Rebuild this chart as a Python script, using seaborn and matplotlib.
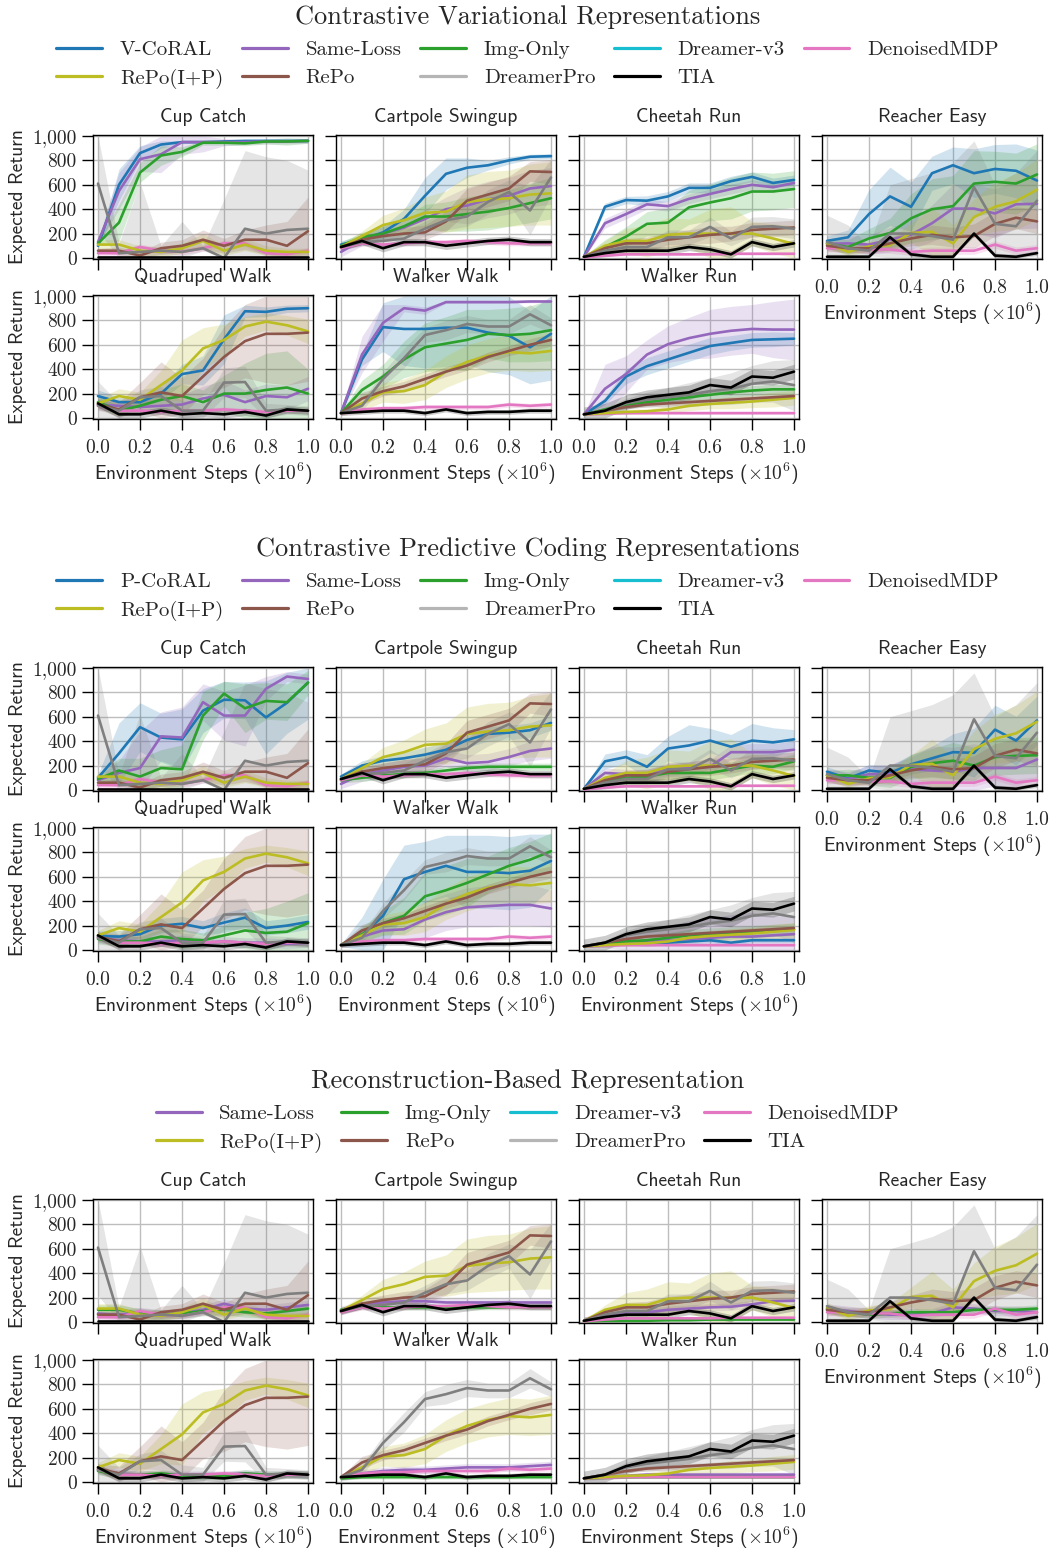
import numpy as np
import pandas as pd
import matplotlib
matplotlib.use("Agg")
import matplotlib.pyplot as plt
import seaborn as sns
from matplotlib.lines import Line2D

# ---------------------------------------------------------------- data
STEPS = [0.0, 0.1, 0.2, 0.3, 0.4, 0.5, 0.6, 0.7, 0.8, 0.9, 1.0]
TASKS = ["Cup Catch", "Cartpole Swingup", "Cheetah Run", "Reacher Easy",
         "Quadruped Walk", "Walker Walk", "Walker Run"]
X_TICKS = [0.0, 0.2, 0.4, 0.6, 0.8, 1.0]
X_TICK_LABELS = ["0.0", "0.2", "0.4", "0.6", "0.8", "1.0"]
Y_TICKS = [0, 200, 400, 600, 800, 1000]
Y_TICK_LABELS = ["0", "200", "400", "600", "800", "1,000"]
SECTION_TITLES = ["Contrastive Variational Representations",
                  "Contrastive Predictive Coding Representations",
                  "Reconstruction-Based Representation"]
CORAL_NAMES = ["V-CoRAL", "P-CoRAL", None]

# --- section specific methods
V_CORAL = {
    "Cup Catch": [100, 600, 860, 930, 950, 950, 955, 960, 960, 960, 960],
    "Cartpole Swingup": [110, 150, 210, 320, 510, 690, 740, 760, 800, 830, 835],
    "Cheetah Run": [10, 420, 475, 470, 505, 575, 575, 630, 665, 615, 640],
    "Reacher Easy": [140, 170, 360, 505, 420, 695, 760, 695, 730, 715, 635],
    "Quadruped Walk": [180, 130, 130, 200, 360, 390, 645, 875, 870, 895, 900],
    "Walker Walk": [40, 480, 745, 730, 730, 740, 740, 700, 675, 580, 690],
    "Walker Run": [30, 140, 340, 425, 480, 535, 590, 615, 640, 645, 650],
}
V_CORAL_SD = {
    "Cup Catch": [20, 130, 60, 30, 10, 10, 10, 10, 10, 10, 10],
    "Cartpole Swingup": [30, 40, 50, 80, 150, 130, 80, 40, 30, 20, 20],
    "Cheetah Run": [5, 30, 30, 40, 40, 40, 40, 40, 40, 40, 40],
    "Reacher Easy": [40, 60, 200, 240, 200, 140, 150, 200, 200, 220, 250],
    "Quadruped Walk": [50, 40, 40, 60, 80, 120, 200, 50, 40, 30, 30],
    "Walker Walk": [10, 50, 200, 300, 320, 320, 300, 320, 320, 300, 380],
    "Walker Run": [5, 30, 60, 70, 70, 70, 70, 60, 60, 60, 50],
}
V_SAME = {
    "Cup Catch": [130, 550, 810, 850, 950, 950, 950, 950, 955, 955, 960],
    "Cartpole Swingup": [50, 150, 200, 250, 320, 400, 430, 480, 510, 570, 590],
    "Cheetah Run": [10, 285, 360, 440, 425, 485, 525, 565, 600, 580, 615],
    "Reacher Easy": [115, 120, 110, 150, 190, 285, 405, 405, 365, 440, 445],
    "Quadruped Walk": [110, 100, 90, 100, 110, 160, 190, 130, 180, 170, 240],
    "Walker Walk": [40, 520, 780, 900, 880, 950, 950, 950, 950, 955, 955],
    "Walker Run": [30, 240, 360, 520, 605, 655, 690, 715, 730, 725, 725],
}
V_SAME_SD = {
    "Cup Catch": [20, 150, 100, 150, 100, 80, 30, 20, 20, 20, 20],
    "Cartpole Swingup": [40, 50, 60, 60, 80, 100, 150, 150, 150, 150, 150],
    "Cheetah Run": [5, 40, 40, 40, 40, 40, 40, 40, 40, 40, 40],
    "Reacher Easy": [40, 60, 80, 100, 120, 150, 200, 200, 200, 200, 200],
    "Quadruped Walk": [50, 50, 50, 60, 80, 100, 120, 100, 100, 100, 100],
    "Walker Walk": [10, 150, 150, 30, 30, 10, 10, 10, 10, 10, 10],
    "Walker Run": [5, 200, 150, 120, 150, 170, 200, 200, 200, 230, 250],
}
V_IMG = {
    "Cup Catch": [120, 290, 700, 840, 870, 945, 945, 940, 955, 955, 960],
    "Cartpole Swingup": [100, 170, 200, 260, 340, 340, 360, 380, 410, 450, 490],
    "Cheetah Run": [10, 90, 175, 280, 290, 415, 455, 490, 545, 545, 565],
    "Reacher Easy": [120, 90, 160, 205, 325, 400, 425, 610, 625, 610, 685],
    "Quadruped Walk": [130, 60, 100, 150, 180, 130, 200, 200, 230, 250, 200],
    "Walker Walk": [40, 230, 340, 480, 580, 610, 640, 690, 680, 690, 720],
    "Walker Run": [30, 70, 110, 130, 150, 170, 190, 210, 225, 235, 235],
}
V_IMG_SD = {
    "Cup Catch": [20, 150, 80, 80, 40, 20, 20, 20, 20, 30, 20],
    "Cartpole Swingup": [30, 40, 60, 80, 100, 120, 140, 150, 150, 160, 170],
    "Cheetah Run": [5, 60, 80, 100, 120, 140, 150, 170, 160, 150, 150],
    "Reacher Easy": [40, 60, 80, 120, 200, 250, 250, 270, 250, 250, 250],
    "Quadruped Walk": [50, 40, 60, 80, 100, 100, 150, 250, 300, 300, 200],
    "Walker Walk": [10, 80, 100, 150, 200, 220, 250, 200, 220, 230, 250],
    "Walker Run": [5, 20, 30, 30, 30, 40, 40, 40, 40, 40, 40],
}

P_CORAL = {
    "Cup Catch": [100, 300, 515, 430, 415, 650, 740, 735, 595, 715, 880],
    "Cartpole Swingup": [110, 200, 240, 260, 290, 330, 410, 460, 470, 490, 550],
    "Cheetah Run": [10, 235, 270, 190, 340, 365, 405, 355, 405, 390, 415],
    "Reacher Easy": [150, 95, 160, 140, 210, 260, 310, 305, 495, 405, 570],
    "Quadruped Walk": [115, 110, 130, 200, 215, 180, 225, 265, 180, 200, 230],
    "Walker Walk": [40, 120, 280, 580, 640, 690, 640, 640, 630, 650, 730],
    "Walker Run": [30, 40, 50, 50, 60, 70, 80, 60, 80, 80, 80],
}
P_CORAL_SD = {
    "Cup Catch": [30, 250, 200, 200, 250, 180, 150, 150, 300, 250, 300],
    "Cartpole Swingup": [20, 40, 40, 50, 60, 60, 60, 60, 60, 60, 60],
    "Cheetah Run": [5, 60, 60, 100, 100, 170, 100, 100, 140, 120, 80],
    "Reacher Easy": [40, 40, 50, 60, 80, 100, 150, 200, 200, 200, 200],
    "Quadruped Walk": [40, 50, 50, 60, 60, 60, 80, 80, 60, 60, 60],
    "Walker Walk": [10, 150, 300, 280, 250, 250, 300, 300, 300, 300, 220],
    "Walker Run": [5, 10, 10, 20, 20, 20, 20, 20, 20, 20, 20],
}
P_SAME = {
    "Cup Catch": [80, 140, 180, 440, 430, 720, 610, 610, 830, 930, 910],
    "Cartpole Swingup": [50, 130, 160, 190, 200, 260, 220, 230, 270, 320, 340],
    "Cheetah Run": [10, 140, 130, 130, 170, 180, 190, 310, 310, 310, 330],
    "Reacher Easy": [120, 90, 130, 130, 170, 160, 150, 180, 180, 180, 250],
    "Quadruped Walk": [100, 80, 70, 70, 80, 60, 70, 60, 60, 50, 60],
    "Walker Walk": [40, 110, 160, 170, 250, 310, 350, 360, 370, 370, 340],
    "Walker Run": [30, 40, 60, 70, 80, 90, 100, 110, 110, 120, 130],
}
P_SAME_SD = {
    "Cup Catch": [30, 100, 300, 200, 250, 150, 200, 250, 100, 40, 40],
    "Cartpole Swingup": [40, 60, 60, 60, 60, 70, 70, 70, 70, 80, 80],
    "Cheetah Run": [5, 40, 40, 40, 50, 50, 60, 60, 70, 70, 70],
    "Reacher Easy": [50, 60, 70, 80, 100, 200, 200, 200, 150, 150, 150],
    "Quadruped Walk": [40, 40, 40, 40, 40, 40, 40, 40, 40, 40, 40],
    "Walker Walk": [10, 50, 70, 100, 150, 150, 160, 170, 170, 170, 150],
    "Walker Run": [5, 20, 60, 80, 120, 150, 160, 180, 200, 160, 150],
}
P_IMG = {
    "Cup Catch": [90, 160, 110, 180, 170, 610, 790, 670, 730, 720, 880],
    "Cartpole Swingup": [80, 100, 120, 130, 140, 160, 180, 190, 190, 190, 190],
    "Cheetah Run": [10, 70, 100, 110, 140, 140, 140, 170, 200, 190, 235],
    "Reacher Easy": [120, 120, 100, 100, 190, 220, 240, 200, 270, 280, 285],
    "Quadruped Walk": [90, 70, 70, 110, 90, 80, 120, 160, 140, 150, 220],
    "Walker Walk": [40, 130, 220, 280, 440, 490, 550, 620, 690, 740, 810],
    "Walker Run": [30, 50, 70, 80, 100, 120, 130, 140, 150, 160, 170],
}
P_IMG_SD = {
    "Cup Catch": [30, 100, 150, 150, 200, 200, 100, 200, 150, 150, 100],
    "Cartpole Swingup": [20, 30, 30, 30, 30, 30, 30, 30, 30, 30, 30],
    "Cheetah Run": [5, 30, 40, 40, 50, 60, 60, 60, 60, 60, 60],
    "Reacher Easy": [40, 50, 60, 80, 100, 120, 150, 150, 150, 150, 150],
    "Quadruped Walk": [40, 40, 40, 60, 80, 60, 80, 150, 200, 250, 250],
    "Walker Walk": [10, 60, 100, 150, 200, 200, 200, 150, 150, 150, 150],
    "Walker Run": [5, 20, 30, 40, 40, 50, 50, 50, 50, 50, 50],
}

R_SAME = {
    "Cup Catch": [70, 60, 80, 60, 70, 100, 150, 110, 100, 120, 140],
    "Cartpole Swingup": [100, 140, 160, 170, 170, 160, 160, 160, 160, 160, 160],
    "Cheetah Run": [10, 60, 80, 80, 100, 110, 120, 125, 145, 170, 175],
    "Reacher Easy": [110, 90, 70, 60, 60, 70, 120, 110, 90, 90, 80],
    "Quadruped Walk": [100, 70, 60, 60, 60, 60, 60, 70, 60, 60, 60],
    "Walker Walk": [40, 70, 90, 100, 100, 110, 120, 120, 120, 130, 140],
    "Walker Run": [30, 40, 50, 60, 60, 60, 60, 60, 60, 60, 60],
}
R_SAME_SD = {"Cup Catch": 40, "Cartpole Swingup": 30, "Cheetah Run": 30,
             "Reacher Easy": 40, "Quadruped Walk": 30, "Walker Walk": 30,
             "Walker Run": 20}
R_IMG = {
    "Cup Catch": [100, 100, 70, 60, 70, 90, 100, 80, 70, 90, 110],
    "Cartpole Swingup": [100, 130, 120, 120, 120, 120, 120, 120, 120, 120, 120],
    "Cheetah Run": [5, 10, 10, 10, 15, 15, 20, 20, 20, 20, 20],
    "Reacher Easy": [100, 80, 60, 70, 80, 80, 80, 100, 100, 100, 110],
    "Quadruped Walk": [90, 60, 60, 70, 50, 50, 50, 70, 60, 60, 60],
    "Walker Walk": [30, 40, 40, 40, 40, 40, 40, 40, 40, 40, 40],
    "Walker Run": [30, 35, 40, 40, 40, 40, 40, 40, 40, 40, 40],
}
R_IMG_SD = {"Cup Catch": 40, "Cartpole Swingup": 20, "Cheetah Run": 10,
            "Reacher Easy": 30, "Quadruped Walk": 30, "Walker Walk": 15,
            "Walker Run": 10}

# --- baselines shared by all sections
REPO_IP = {
    "Cup Catch": [110, 110, 60, 50, 80, 140, 60, 110, 60, 50, 50],
    "Cartpole Swingup": [90, 180, 270, 310, 370, 380, 460, 480, 490, 520, 530],
    "Cheetah Run": [10, 100, 140, 140, 190, 200, 200, 200, 200, 160, 115],
    "Reacher Easy": [120, 50, 95, 105, 205, 215, 120, 335, 420, 465, 560],
    "Quadruped Walk": [120, 180, 150, 270, 390, 570, 640, 750, 790, 760, 710],
    "Walker Walk": [40, 120, 210, 220, 270, 380, 460, 510, 540, 530, 550],
    "Walker Run": [30, 40, 50, 55, 70, 100, 115, 125, 135, 150, 165],
}
REPO_IP_SD = {
    "Cup Catch": [40, 40, 40, 40, 40, 60, 40, 50, 40, 30, 30],
    "Cartpole Swingup": [20, 40, 80, 100, 130, 170, 220, 230, 230, 250, 260],
    "Cheetah Run": [5, 40, 100, 130, 140, 120, 200, 220, 100, 120, 150],
    "Reacher Easy": [40, 30, 40, 50, 80, 200, 150, 150, 200, 230, 250],
    "Quadruped Walk": [40, 60, 60, 120, 250, 170, 130, 80, 70, 80, 100],
    "Walker Walk": [10, 60, 80, 100, 120, 130, 140, 140, 150, 150, 160],
    "Walker Run": [5, 10, 20, 20, 30, 40, 40, 50, 50, 60, 60],
}
REPO = {
    "Cup Catch": [60, 60, 20, 80, 100, 150, 100, 150, 150, 100, 220],
    "Cartpole Swingup": [90, 150, 180, 200, 210, 300, 470, 520, 570, 710, 705],
    "Cheetah Run": [10, 80, 120, 120, 150, 170, 190, 200, 230, 240, 250],
    "Reacher Easy": [100, 80, 80, 120, 160, 190, 170, 180, 280, 330, 300],
    "Quadruped Walk": [110, 70, 170, 210, 180, 340, 500, 630, 690, 690, 700],
    "Walker Walk": [40, 160, 220, 260, 320, 380, 430, 500, 550, 600, 640],
    "Walker Run": [30, 60, 90, 110, 120, 130, 140, 150, 160, 170, 180],
}
REPO_SD = {
    "Cup Catch": [20, 30, 30, 50, 50, 80, 60, 80, 120, 200, 280],
    "Cartpole Swingup": [20, 40, 40, 50, 60, 80, 100, 100, 100, 80, 100],
    "Cheetah Run": [5, 30, 40, 50, 60, 60, 70, 60, 60, 60, 60],
    "Reacher Easy": [40, 40, 40, 50, 60, 80, 80, 100, 100, 90, 100],
    "Quadruped Walk": [40, 60, 120, 250, 150, 150, 250, 300, 400, 420, 400],
    "Walker Walk": [10, 50, 40, 40, 40, 40, 40, 40, 40, 50, 50],
    "Walker Run": [5, 10, 15, 20, 20, 20, 20, 20, 20, 20, 20],
}
DREAMERPRO = {
    "Cup Catch": [610, 40, 50, 60, 50, 80, 0, 240, 200, 230, 240],
    "Cartpole Swingup": [90, 130, 140, 160, 240, 310, 340, 460, 540, 390, 660],
    "Cheetah Run": [10, 60, 90, 90, 170, 170, 255, 160, 255, 260, 240],
    "Reacher Easy": [130, 80, 60, 200, 200, 180, 150, 580, 280, 260, 470],
    "Quadruped Walk": [100, 60, 170, 180, 60, 60, 290, 295, 60, 70, 60],
    "Walker Walk": [40, 100, 320, 490, 680, 720, 770, 750, 750, 850, 760],
    "Walker Run": [30, 60, 120, 150, 170, 190, 220, 240, 280, 300, 270],
}
DREAMERPRO_SD = {
    "Cup Catch": [390, 80, 570, 40, 250, 20, 480, 640, 630, 570, 480],
    "Cartpole Swingup": [20, 30, 40, 60, 60, 80, 80, 100, 100, 200, 150],
    "Cheetah Run": [5, 30, 40, 40, 60, 60, 80, 60, 80, 80, 80],
    "Reacher Easy": [220, 190, 40, 400, 450, 520, 630, 380, 320, 440, 410],
    "Quadruped Walk": [200, 60, 60, 80, 80, 60, 120, 130, 60, 40, 40],
    "Walker Walk": [10, 40, 60, 80, 60, 80, 70, 60, 60, 80, 60],
    "Walker Run": [5, 20, 40, 60, 80, 100, 110, 130, 150, 170, 210],
}
TIA = {
    "Cup Catch": [5, 5, 5, 5, 5, 5, 5, 5, 5, 5, 5],
    "Cartpole Swingup": [90, 140, 80, 130, 130, 100, 120, 140, 150, 130, 130],
    "Cheetah Run": [10, 40, 60, 60, 60, 90, 70, 30, 130, 90, 120],
    "Reacher Easy": [10, 10, 10, 170, 30, 10, 10, 200, 20, 10, 40],
    "Quadruped Walk": [120, 30, 30, 60, 30, 40, 30, 50, 20, 70, 60],
    "Walker Walk": [40, 50, 60, 60, 40, 70, 40, 50, 50, 60, 60],
    "Walker Run": [30, 60, 130, 170, 190, 210, 270, 250, 340, 330, 380],
}
TIA_SD = {"Cup Catch": 5, "Cartpole Swingup": 30, "Cheetah Run": 30,
          "Reacher Easy": 20, "Quadruped Walk": 30, "Walker Walk": 20,
          "Walker Run": 60}
DENOISED = {
    "Cup Catch": [40, 40, 90, 60, 50, 80, 120, 120, 40, 30, 60],
    "Cartpole Swingup": [80, 120, 110, 120, 130, 130, 140, 130, 120, 120, 120],
    "Cheetah Run": [5, 20, 30, 30, 30, 30, 30, 35, 35, 35, 35],
    "Reacher Easy": [80, 80, 70, 70, 50, 60, 60, 60, 110, 60, 80],
    "Quadruped Walk": [100, 60, 60, 50, 60, 60, 70, 60, 50, 60, 60],
    "Walker Walk": [40, 70, 80, 80, 90, 90, 90, 90, 110, 100, 110],
    "Walker Run": [30, 35, 40, 40, 40, 40, 40, 40, 40, 40, 40],
}
DENOISED_SD = {"Cup Catch": 25, "Cartpole Swingup": 20, "Cheetah Run": 10,
               "Reacher Easy": 30, "Quadruped Walk": 20, "Walker Walk": 20,
               "Walker Run": 10}

# ---------------------------------------------------------------- style
COLORS = {"CoRAL": "#1f77b4", "Same-Loss": "#9467bd", "Img-Only": "#2ca02c",
          "Dreamer-v3": "#17becf", "DenoisedMDP": "#e377c2",
          "RePo(I+P)": "#bcbd22", "RePo": "#8c564b", "DreamerPro": "#7f7f7f",
          "TIA": "#000000"}
LEGEND_COLORS = dict(COLORS, DreamerPro="#b5b5b5")

sns.set_style("ticks")
plt.rcParams["mathtext.fontset"] = "cm"
plt.rcParams["axes.unicode_minus"] = False
plt.rcParams["axes.formatter.use_mathtext"] = True
SERIF = "cmr10"
SANS = "cmss10"

W, H = 1055, 1551
fig = plt.figure(figsize=(W / 100, H / 100), dpi=100)

COL_X0 = [98, 341, 584, 827]      # pixel position of x = 0
DATA_W = 210                       # pixels for x in [0, 1]
DATA_H = 122                       # pixels for y in [0, 1000]
SEC_DY = 532


def axes_rect(sec, row, col):
    y0 = 258 + 160 * row + SEC_DY * sec
    left = COL_X0[col] - 0.025 * DATA_W
    width = 1.05 * DATA_W
    bottom = y0 + 0.01 * DATA_H
    height = 1.02 * DATA_H
    return [left / W, 1 - bottom / H, width / W, height / H]


def draw_panel(ax, task, series):
    frames = []
    for key, md, sd in series:
        m = np.asarray(md[task], float)
        s = sd[task]
        s = np.asarray(s, float) if np.ndim(s) else np.full(len(m), float(s))
        ax.fill_between(STEPS, np.clip(m - s, 0, 1000), np.clip(m + s, 0, 1000),
                        color=COLORS[key], alpha=0.2, lw=0, zorder=1)
        frames.append(pd.DataFrame({"step": STEPS, "ret": m, "method": key}))
    df = pd.concat(frames, ignore_index=True)
    keys = [k for k, _, _ in series]
    sns.lineplot(data=df, x="step", y="ret", hue="method", hue_order=keys,
                 palette=[COLORS[k] for k in keys], linewidth=1.9,
                 legend=False, errorbar=None, sort=False, ax=ax, zorder=3)


SECTIONS = [
    (V_CORAL, V_CORAL_SD, V_SAME, V_SAME_SD, V_IMG, V_IMG_SD),
    (P_CORAL, P_CORAL_SD, P_SAME, P_SAME_SD, P_IMG, P_IMG_SD),
    (None, None, R_SAME, R_SAME_SD, R_IMG, R_IMG_SD),
]

for sec, (coral, coral_sd, same, same_sd, img, img_sd) in enumerate(SECTIONS):
    series = []
    if coral is not None:
        series.append(("CoRAL", coral, coral_sd))
    series += [("Same-Loss", same, same_sd), ("Img-Only", img, img_sd),
               ("DenoisedMDP", DENOISED, DENOISED_SD),
               ("RePo(I+P)", REPO_IP, REPO_IP_SD), ("RePo", REPO, REPO_SD),
               ("DreamerPro", DREAMERPRO, DREAMERPRO_SD), ("TIA", TIA, TIA_SD)]

    # section title
    fig.text(0.5, 1 - (17 + SEC_DY * sec) / H, SECTION_TITLES[sec],
             ha="center", va="center", fontsize=19, fontfamily=SERIF)

    # legend (column-major order so that rows read as in the reference)
    if coral is not None:
        row1 = [CORAL_NAMES[sec], "Same-Loss", "Img-Only", "Dreamer-v3", "DenoisedMDP"]
        keys1 = ["CoRAL", "Same-Loss", "Img-Only", "Dreamer-v3", "DenoisedMDP"]
        ncol = 5
    else:
        row1 = ["Same-Loss", "Img-Only", "Dreamer-v3", "DenoisedMDP"]
        keys1 = ["Same-Loss", "Img-Only", "Dreamer-v3", "DenoisedMDP"]
        ncol = 4
    row2 = ["RePo(I+P)", "RePo", "DreamerPro", "TIA"]
    labels, keys = [], []
    for i in range(ncol):
        labels.append(row1[i]); keys.append(keys1[i])
        if i < len(row2):
            labels.append(row2[i]); keys.append(row2[i])
    handles = [Line2D([], [], color=LEGEND_COLORS[k], lw=2.3) for k in keys]
    fig.legend(handles, labels, ncol=ncol, loc="center",
               bbox_to_anchor=(0.5, 1 - (64.5 + SEC_DY * sec) / H),
               frameon=False, prop={"family": SERIF, "size": 15},
               handlelength=2.2, handletextpad=0.85, columnspacing=0.9,
               labelspacing=0.45, borderaxespad=0)

    for t_i, task in enumerate(TASKS):
        row, col = divmod(t_i, 4)
        ax = fig.add_axes(axes_rect(sec, row, col))
        draw_panel(ax, task, series)
        ax.set_xlim(-0.025, 1.025)
        ax.set_ylim(-10, 1010)
        ax.set_xticks(X_TICKS)
        ax.set_yticks(Y_TICKS)
        ax.grid(True, color="#bdbdbd", lw=1.0, zorder=0)
        ax.set_axisbelow(True)
        ax.tick_params(direction="out", length=8, width=1.0, color="black")
        ax.tick_params(axis="x", pad=6.5)
        for sp in ax.spines.values():
            sp.set_visible(True)
            sp.set_color("black")
            sp.set_linewidth(1.0)
        ax.set_title(task, fontsize=14, fontfamily=SANS, va="bottom", pad=6)
        ax.set_xlabel("")
        ax.set_ylabel("")
        if col == 0:
            ax.set_yticklabels(Y_TICK_LABELS, fontfamily=SERIF, fontsize=14)
            ax.set_ylabel("Expected Return", fontsize=14, fontfamily=SANS)
            ax.yaxis.set_label_coords(-0.30, 0.5)
        else:
            ax.set_yticklabels([])
        bottom_row = (row == 1) or (col == 3)
        if bottom_row:
            ax.set_xticklabels(X_TICK_LABELS, fontfamily=SERIF, fontsize=14)
            ax.set_xlabel(r"Environment Steps ($\times 10^6$)", fontsize=14,
                          fontfamily=SANS)
            ax.xaxis.set_label_coords(0.5, -0.33)
        else:
            ax.set_xticklabels([])

fig.savefig("out.png", dpi=100)
